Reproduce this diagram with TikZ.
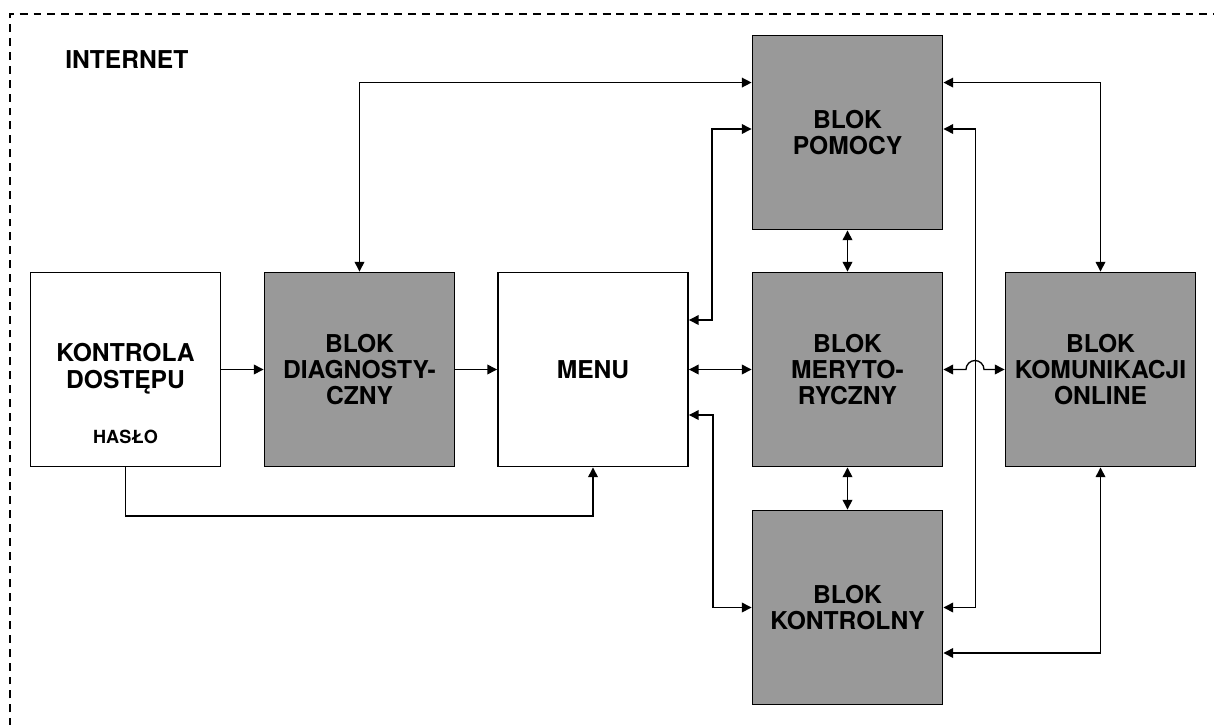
\documentclass[tikz,border=0pt]{standalone}
\usepackage{fontspec}
\setmainfont{TeX Gyre Heros}
\usetikzlibrary{arrows.meta,calc}
\definecolor{boxgray}{HTML}{999999}
\begin{document}
\begin{tikzpicture}[x=0.02cm,y=-0.02cm,
  >={Triangle[length=5.5pt,width=5.5pt]},
  conn/.style={line width=0.75pt},
  boxbase/.style={draw,line width=1.1pt,minimum width=3.8cm,minimum height=3.88cm,inner sep=0pt,align=center,
    font=\fontsize{14}{15}\selectfont\bfseries},
  wbox/.style={boxbase,fill=white},
  gbox/.style={boxbase,fill=boxgray},
  lbl/.style={font=\fontsize{14}{15.5}\selectfont\bfseries},
  small/.style={font=\fontsize{10.3}{12}\selectfont\bfseries}
]
\useasboundingbox (0,0) rectangle (1214,724);
\draw[line width=0.75pt,dash pattern=on 4.5pt off 3.4pt] (10,740) -- (10,14) -- (1230,14);
\node[lbl,anchor=west,inner sep=0pt] (inet) at (65,60) {INTERNET};

\node[wbox] (kd) at (125.5,369.5) {};
\node[lbl,align=center] (kdt) at (125.5,369) {KONTROLA\\DOSTĘPU};
\node[small] (haslo) at (125.5,437) {HASŁO};
\node[gbox] (diag) at (359.5,369.5) {BLOK\\DIAGNOSTY-\\CZNY};
\node[wbox] (menu) at (593,369.5) {MENU};
\node[gbox] (mer) at (847.5,369.5) {BLOK\\MERYTO-\\RYCZNY};
\node[gbox] (pom) at (847.5,132.5) {BLOK\\POMOCY};
\node[gbox] (kont) at (847.5,607.5) {BLOK\\KONTROLNY};
\node[gbox] (kom) at (1100.5,369.5) {BLOK\\KOMUNIKACJI\\ONLINE};

\coordinate (hop) at (975,369.5);

\draw[conn,->] (kd.east) -- (diag.west);
\draw[conn,->] (diag.east) -- (menu.west);
\draw[conn,<->] (menu.east) -- (mer.west);
\draw[conn,<->] (pom.south) -- (mer.north);
\draw[conn,<->] (mer.south) -- (kont.north);
\draw[conn,->] (kd.south) -- ++(0,48.5) -| (menu.south);
\draw[conn,<->] (diag.north) |- ($(pom.north west)+(0,48)$);
\draw[conn,<->] ($(menu.east)+(0,-49.5)$) -- ++(23,0) |- ($(pom.west)+(0,-3.5)$);
\draw[conn,<->] ($(menu.east)+(0,45.5)$) -- ++(24,0) |- (kont.west);
\draw[conn,<->] ($(pom.east)+(0,-3.5)$) -- ++(32,0) |- (kont.east);
\draw[conn,<->] ($(pom.north east)+(0,48)$) -| (kom.north);
\draw[conn,<->] ($(kont.east)+(0,45.5)$) -| (kom.south);
\draw[conn,<->] (mer.east) -- ([xshift=-0.18cm]hop) arc[start angle=180,end angle=0,radius=0.18cm] -- (kom.west);
\end{tikzpicture}
\end{document}
